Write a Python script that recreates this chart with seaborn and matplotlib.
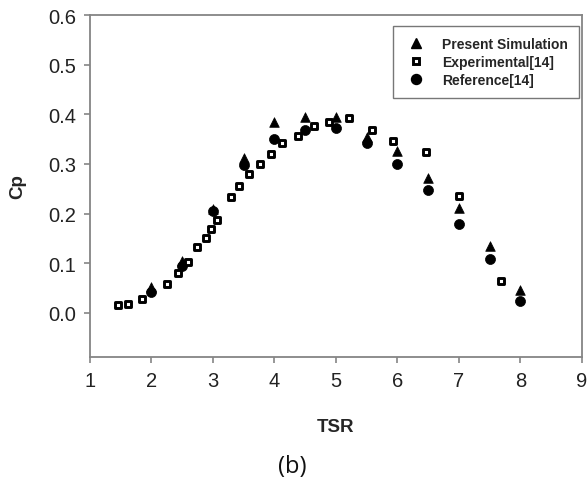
import matplotlib
matplotlib.use("Agg")
import matplotlib.pyplot as plt
from matplotlib.lines import Line2D
import seaborn as sns
import pandas as pd

# Present simulation results
sim_tsr = [2.0, 2.5, 3.0, 3.5, 4.0, 4.5, 5.0, 5.5, 6.0, 6.5, 7.0, 7.5, 8.0]
sim_cp = [0.052, 0.105, 0.209, 0.313, 0.385, 0.395, 0.395, 0.355, 0.327, 0.271, 0.211, 0.134, 0.046]

# Experimental data [14]
exp_tsr = [1.46, 1.62, 1.85, 2.26, 2.43, 2.60, 2.74, 2.88, 2.97, 3.06, 3.30, 3.43,
           3.59, 3.76, 3.94, 4.13, 4.38, 4.64, 4.89, 5.21, 5.58, 5.93, 6.46, 7.0, 7.68]
exp_cp = [0.017, 0.019, 0.028, 0.058, 0.080, 0.102, 0.132, 0.150, 0.170, 0.188, 0.233, 0.256,
          0.280, 0.300, 0.321, 0.343, 0.357, 0.376, 0.385, 0.392, 0.368, 0.347, 0.325, 0.236, 0.065]

# Reference numerical results [14]
ref_tsr = [2.0, 2.5, 3.0, 3.5, 4.0, 4.5, 5.0, 5.5, 6.0, 6.5, 7.0, 7.5, 8.0]
ref_cp = [0.043, 0.095, 0.205, 0.298, 0.350, 0.369, 0.372, 0.343, 0.300, 0.247, 0.179, 0.109, 0.024]

x_ticks = [1, 2, 3, 4, 5, 6, 7, 8, 9]
y_ticks = [0.0, 0.1, 0.2, 0.3, 0.4, 0.5, 0.6]

sim = pd.DataFrame({"TSR": sim_tsr, "Cp": sim_cp})
exp = pd.DataFrame({"TSR": exp_tsr, "Cp": exp_cp})
ref = pd.DataFrame({"TSR": ref_tsr, "Cp": ref_cp})

sns.set_style("ticks")
plt.rcParams["font.family"] = ["Liberation Sans", "DejaVu Sans"]

fig = plt.figure(figsize=(5.87, 4.85), dpi=100)
ax = fig.add_axes([0.1533, 0.262, 0.838, 0.705])

sns.scatterplot(data=sim, x="TSR", y="Cp", marker="^", s=48, color="black",
                edgecolor="black", linewidth=0.5, ax=ax, zorder=3)
sns.scatterplot(data=ref, x="TSR", y="Cp", marker="o", s=52, color="black",
                edgecolor="black", linewidth=0.5, ax=ax, zorder=4)
sns.scatterplot(data=exp, x="TSR", y="Cp", marker="s", s=20, color="white",
                edgecolor="black", linewidth=2.1, ax=ax, zorder=5)

ax.set_xlim(1, 9)
ax.set_ylim(-0.0885, 0.6)
ax.set_xticks(x_ticks)
ax.set_xticklabels([str(v) for v in x_ticks])
ax.set_yticks(y_ticks)
ax.set_yticklabels([f"{v:.1f}" for v in y_ticks])

spine_color = "#858585"
for sp in ax.spines.values():
    sp.set_color(spine_color)
    sp.set_linewidth(1.3)
ax.tick_params(axis="both", direction="out", length=4, width=1.2, color=spine_color,
               labelsize=14.5, labelcolor="#222222", pad=6)

ax.set_xlabel("TSR", fontsize=13.5, fontweight="bold", labelpad=20)
ax.set_ylabel("Cp", fontsize=13.5, fontweight="bold", labelpad=16)

handles = [
    Line2D([], [], linestyle="none", marker="^", markersize=7, color="black"),
    Line2D([], [], linestyle="none", marker="s", markersize=4.6, markerfacecolor="white",
           markeredgecolor="black", markeredgewidth=2.1),
    Line2D([], [], linestyle="none", marker="o", markersize=7.2, color="black"),
]
labels = ["Present Simulation", "Experimental[14]", "Reference[14]"]
leg = ax.legend(handles, labels, loc="upper right", bbox_to_anchor=(579 / 587, 1 - 26.7 / 485),
                bbox_transform=fig.transFigure, frameon=True, fancybox=False,
                prop={"weight": "bold", "size": 10}, handletextpad=1.1,
                labelspacing=0.3, borderpad=0.8, borderaxespad=0, handlelength=1.6)
leg.get_frame().set_edgecolor("#555555")
leg.get_frame().set_linewidth(1.0)

fig.text(292 / 587, 1 - 467 / 485, "(b)", ha="center", va="center", fontsize=17,
         family=["Open Sans", "DejaVu Sans"], color="#111111")

fig.savefig("out.png", dpi=100)
